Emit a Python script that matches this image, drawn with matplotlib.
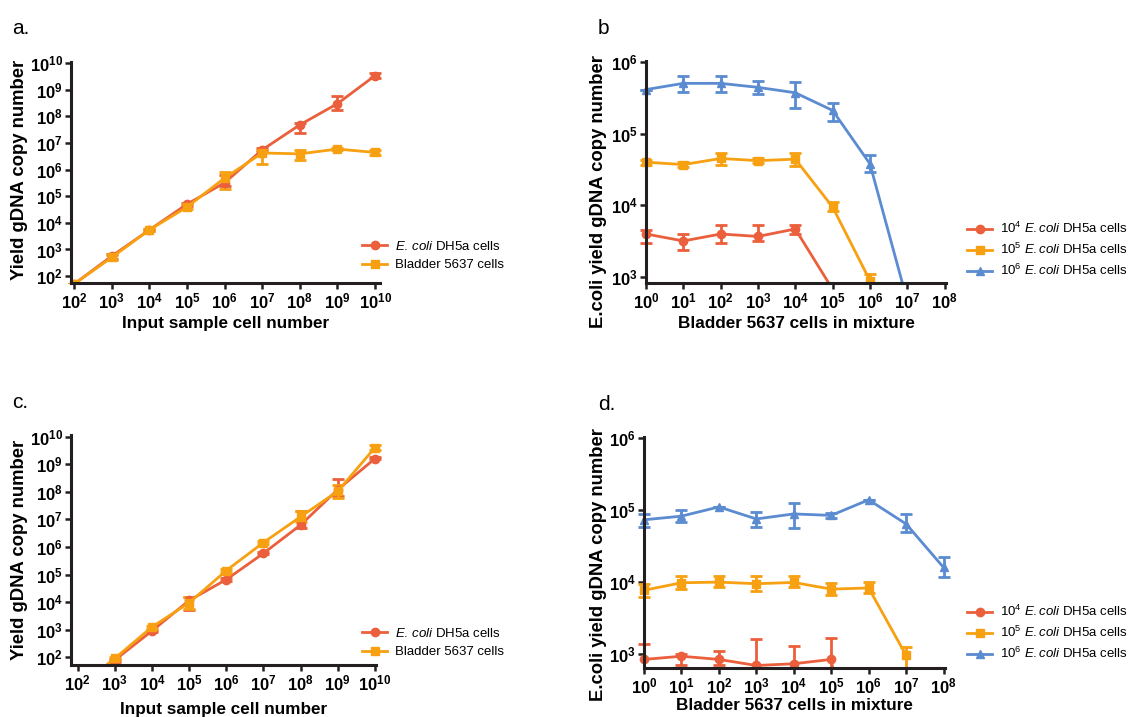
import numpy as np
import matplotlib
matplotlib.use('Agg')
import matplotlib.pyplot as plt
from matplotlib.lines import Line2D
from matplotlib.transforms import Bbox, TransformedBbox

plt.rcParams['font.family'] = ['Liberation Sans', 'DejaVu Sans']
plt.rcParams['mathtext.fontset'] = 'custom'
plt.rcParams['mathtext.rm'] = 'Liberation Sans'
plt.rcParams['mathtext.it'] = 'Liberation Sans:italic'
plt.rcParams['mathtext.bf'] = 'Liberation Sans:bold'

RED = '#EB5F3C'
ORANGE = '#F7A011'
BLUE = '#5B8BD0'
DARK = '#231F20'

# panel a: single sample type, input cell number vs yield
a_cells = [1e2, 1e3, 1e4, 1e5, 1e6, 1e7, 1e8, 1e9, 1e10]
a_ecoli = [50, 5.6e2, 5.4e3, 5.0e4, 3.2e5, 5.5e6, 4.8e7, 3.0e8, 3.4e9]
a_ecoli_lo = [50, 4.5e2, 5.0e3, 4.2e4, 2.5e5, 4.8e6, 2.4e7, 1.7e8, 2.8e9]
a_ecoli_hi = [50, 6.5e2, 5.8e3, 5.8e4, 6.5e5, 6.5e6, 5.6e7, 5.9e8, 4.3e9]
a_bladder = [50, 5.0e2, 5.4e3, 3.9e4, 4.8e5, 4.2e6, 3.9e6, 5.9e6, 4.4e6]
a_bladder_lo = [50, 4.0e2, 5.0e3, 3.2e4, 1.9e5, 1.6e6, 2.2e6, 5.3e6, 3.6e6]
a_bladder_hi = [50, 6.2e2, 5.8e3, 5.0e4, 8.2e5, 5.5e6, 5.6e6, 6.6e6, 5.3e6]

# panel b: E. coli spiked into bladder cells
b_bladder = [1e0, 1e1, 1e2, 1e3, 1e4, 1e5, 1e6, 1e7]
b_e4 = [4.0e3, 3.2e3, 4.0e3, 3.7e3, 4.7e3, 680]
b_e4_lo = [3.0e3, 2.4e3, 3.0e3, 3.2e3, 4.0e3, 680]
b_e4_hi = [4.6e3, 4.0e3, 5.4e3, 5.3e3, 5.3e3, 680]
b_e5 = [4.0e4, 3.7e4, 4.5e4, 4.2e4, 4.4e4, 9.5e3, 900]
b_e5_lo = [3.7e4, 3.4e4, 3.6e4, 3.9e4, 3.5e4, 8.3e3, 750]
b_e5_hi = [4.3e4, 4.0e4, 5.3e4, 4.5e4, 5.3e4, 1.1e4, 1.1e3]
b_e6 = [4.1e5, 5.0e5, 5.0e5, 4.4e5, 3.7e5, 2.1e5, 3.8e4, 470]
b_e6_lo = [4.1e5, 3.8e5, 3.8e5, 3.5e5, 2.3e5, 1.5e5, 2.9e4, 470]
b_e6_hi = [4.1e5, 6.3e5, 6.3e5, 5.4e5, 5.3e5, 2.7e5, 5.1e4, 470]

# panel c: second extraction method, input cell number vs yield
c_cells = [1e2, 1e3, 1e4, 1e5, 1e6, 1e7, 1e8, 1e9, 1e10]
c_ecoli = [8, 80, 910, 1.15e4, 6.6e4, 5.9e5, 6.3e6, 1.2e8, 1.6e9]
c_ecoli_lo = [8, 70, 820, 5.0e3, 6.0e4, 5.4e5, 5.0e6, 7.0e7, 1.5e9]
c_ecoli_hi = [8, 90, 1.0e3, 1.5e4, 7.2e4, 6.5e5, 2.0e7, 2.8e8, 1.8e9]
c_bladder = [8, 92, 1.26e3, 9.5e3, 1.4e5, 1.45e6, 1.25e7, 1.05e8, 4.0e9]
c_bladder_lo = [8, 80, 1.1e3, 5.8e3, 1.2e5, 1.3e6, 8.0e6, 6.0e7, 3.3e9]
c_bladder_hi = [8, 105, 1.4e3, 1.5e4, 1.6e5, 1.6e6, 2.0e7, 1.8e8, 4.8e9]

# panel d: second extraction method, mixtures
d_bladder = [1e0, 1e1, 1e2, 1e3, 1e4, 1e5, 1e6, 1e7, 1e8]
d_e4 = [850, 940, 850, 700, 740, 850, 1]
d_e4_lo = [600, 700, 700, 600, 600, 600, 1]
d_e4_hi = [1.4e3, 1.0e3, 1.1e3, 1.65e3, 1.3e3, 1.67e3, 1]
d_e5 = [7.7e3, 9.8e3, 1.0e4, 9.5e3, 9.9e3, 8.0e3, 8.3e3, 970]
d_e5_lo = [6.2e3, 8.1e3, 8.5e3, 7.5e3, 8.5e3, 6.6e3, 7.0e3, 600]
d_e5_hi = [9.5e3, 1.2e4, 1.2e4, 1.2e4, 1.2e4, 9.8e3, 1.0e4, 1.26e3]
d_e6 = [7.3e4, 8.2e4, 1.1e5, 7.5e4, 8.8e4, 8.4e4, 1.38e5, 6.4e4, 1.6e4]
d_e6_lo = [5.8e4, 6.7e4, 1.1e5, 5.8e4, 5.6e4, 7.8e4, 1.38e5, 4.9e4, 1.17e4]
d_e6_hi = [8.8e4, 1.0e5, 1.1e5, 9.3e4, 1.24e5, 9.0e4, 1.38e5, 8.7e4, 2.2e4]

legend_ad = [r'$\mathit{E.\,coli}$ DH5a cells', 'Bladder 5637 cells']
legend_bd = [r'10$^{4}$ $\mathit{E.coli}$ DH5a cells',
             r'10$^{5}$ $\mathit{E.coli}$ DH5a cells',
             r'10$^{6}$ $\mathit{E.coli}$ DH5a cells']

MS = 6


def series(ax, x, y, lo, hi, color, marker):
    x = np.array(x[:len(y)])
    y = np.array(y)
    err = [y - np.array(lo), np.array(hi) - y]
    cont = ax.errorbar(x, y, yerr=err, color=color, marker=marker, ms=MS,
                       lw=2, elinewidth=2, capsize=4.5, capthick=2)
    # clip only at the bottom/top, so markers on the spine stay whole
    box = TransformedBbox(Bbox([[-0.05, 0], [1.05, 1.05]]), ax.transAxes)
    for art in cont.get_children():
        art.set_clip_box(box)


def style(ax, xexp, yexp, xlim, ylim):
    ax.set_xscale('log')
    ax.set_yscale('log')
    ax.set_xlim(*xlim)
    ax.set_ylim(*ylim)
    for s in ['top', 'right']:
        ax.spines[s].set_visible(False)
    for s in ['left', 'bottom']:
        ax.spines[s].set_linewidth(2.2)
        ax.spines[s].set_color(DARK)
    ax.set_xticks([10.0 ** e for e in xexp])
    ax.set_xticklabels([r'$\mathbf{10^{%d}}$' % e for e in xexp])
    ax.set_yticks([10.0 ** e for e in yexp])
    ax.set_yticklabels([r'$\mathbf{10^{%d}}$' % e for e in yexp])
    ax.minorticks_off()
    ax.tick_params(length=4, width=1.8, color=DARK, labelsize=12, pad=2)


def legend(ax, x, y, colors, markers, labels):
    handles = [Line2D([], [], color=c, marker=m, ms=MS, lw=2)
               for c, m in zip(colors, markers)]
    ax.legend(handles, labels, loc='upper left',
              bbox_to_anchor=(x / 1135.0, 1 - y / 717.0),
              bbox_transform=ax.figure.transFigure, frameon=False,
              fontsize=9.5, handlelength=1.9, handletextpad=0.6,
              labelspacing=0.45, borderpad=0, borderaxespad=0)


fig = plt.figure(figsize=(11.35, 7.17), dpi=100)

ax = fig.add_axes([0.0626, 0.6053, 0.2722, 0.3082])
series(ax, a_cells, a_ecoli, a_ecoli_lo, a_ecoli_hi, RED, 'o')
series(ax, a_cells, a_bladder, a_bladder_lo, a_bladder_hi, ORANGE, 's')
style(ax, range(2, 11), range(2, 11), (10 ** 1.92, 10 ** 10.13), (10 ** 1.74, 10 ** 10.04))
ax.set_ylabel('Yield gDNA copy number', fontsize=13.3, fontweight='bold')
ax.set_xlabel('Input sample cell number', fontsize=12.3, fontweight='bold')
ax.yaxis.set_label_coords(-0.139, 0.51)
ax.xaxis.set_label_coords(0.5, -0.15)
legend(ax, 362, 240, [RED, ORANGE], ['o', 's'], legend_ad)
fig.text(12 / 1135.0, 1 - 29 / 717.0, 'a.', fontsize=15, va='center')

ax = fig.add_axes([0.5692, 0.6053, 0.2643, 0.3096])
series(ax, b_bladder, b_e4, b_e4_lo, b_e4_hi, RED, 'o')
series(ax, b_bladder, b_e5, b_e5_lo, b_e5_hi, ORANGE, 's')
series(ax, b_bladder, b_e6, b_e6_lo, b_e6_hi, BLUE, '^')
style(ax, range(0, 9), range(3, 7), (1, 10 ** 8.04), (10 ** 2.92, 10 ** 6.01))
ax.set_ylabel('E.coli yield gDNA copy number', fontsize=13.3, fontweight='bold')
ax.set_xlabel('Bladder 5637 cells in mixture', fontsize=12.3, fontweight='bold')
ax.yaxis.set_label_coords(-0.13, 0.41)
ax.xaxis.set_label_coords(0.5, -0.15)
legend(ax, 967, 221, [RED, ORANGE, BLUE], ['o', 's', '^'], legend_bd)
fig.text(598 / 1135.0, 1 - 29 / 717.0, 'b', fontsize=15, va='center')

ax = fig.add_axes([0.0626, 0.0725, 0.2687, 0.3208])
series(ax, c_cells, c_ecoli, c_ecoli_lo, c_ecoli_hi, RED, 'o')
series(ax, c_cells, c_bladder, c_bladder_lo, c_bladder_hi, ORANGE, 's')
style(ax, range(2, 11), range(2, 11), (10 ** 1.82, 10 ** 10.03), (10 ** 1.72, 10 ** 10.06))
ax.set_ylabel('Yield gDNA copy number', fontsize=13.3, fontweight='bold')
ax.set_xlabel('Input sample cell number', fontsize=12.3, fontweight='bold')
ax.yaxis.set_label_coords(-0.141, 0.5)
ax.xaxis.set_label_coords(0.5, -0.16)
legend(ax, 362, 627, [RED, ORANGE], ['o', 's'], legend_ad)
fig.text(12 / 1135.0, 1 - 403 / 717.0, 'c.', fontsize=15, va='center')

ax = fig.add_axes([0.5674, 0.0683, 0.2652, 0.3222])
series(ax, d_bladder, d_e4, d_e4_lo, d_e4_hi, RED, 'o')
series(ax, d_bladder, d_e5, d_e5_lo, d_e5_hi, ORANGE, 's')
series(ax, d_bladder, d_e6, d_e6_lo, d_e6_hi, BLUE, '^')
style(ax, range(0, 9), range(3, 7), (1, 10 ** 8.04), (10 ** 2.81, 10 ** 6.01))
ax.set_ylabel('E.coli yield gDNA copy number', fontsize=13.3, fontweight='bold')
ax.set_xlabel('Bladder 5637 cells in mixture', fontsize=12.3, fontweight='bold')
ax.yaxis.set_label_coords(-0.123, 0.45)
ax.xaxis.set_label_coords(0.5, -0.13)
legend(ax, 967, 604, [RED, ORANGE, BLUE], ['o', 's', '^'], legend_bd)
fig.text(598 / 1135.0, 1 - 405 / 717.0, 'd.', fontsize=15, va='center')

fig.savefig('out.png', dpi=100)
